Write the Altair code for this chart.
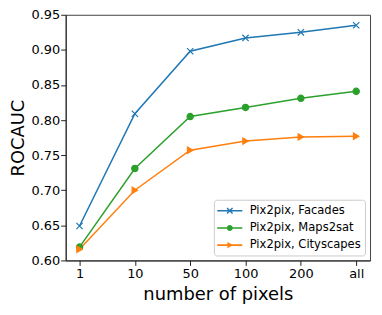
import altair as alt
import pandas as pd

categories = ["1", "10", "50", "100", "200", "all"]
series_names = ["Pix2pix, Facades", "Pix2pix, Maps2sat", "Pix2pix, Cityscapes"]
facades = [0.649, 0.809, 0.898, 0.917, 0.925, 0.935]
maps2sat = [0.619, 0.731, 0.805, 0.818, 0.831, 0.841]
cityscapes = [0.616, 0.700, 0.757, 0.770, 0.776, 0.777]
y_ticks = [0.60, 0.65, 0.70, 0.75, 0.80, 0.85, 0.90, 0.95]

colors = ["#1f77b4", "#2ca02c", "#ff7f0e"]
marker_shapes = ["M-1,-1L1,1M-1,1L1,-1", "circle", "triangle-right"]

# legend glyphs: a short line segment with the marker on top (filled outlines)
LINE = "M-1.8,-0.11L1.8,-0.11L1.8,0.11L-1.8,0.11Z"
legend_shapes = [
    LINE + "M-0.33,-0.47L0.47,0.33L0.33,0.47L-0.47,-0.33Z"
         + "M-0.33,0.47L-0.47,0.33L0.33,-0.47L0.47,-0.33Z",
    LINE + "M-0.43,0A0.43,0.43,0,1,1,0.43,0A0.43,0.43,0,1,1,-0.43,0Z",
    LINE + "M-0.34,-0.46L0.49,0L-0.34,0.46Z",
]

series_data = [facades, maps2sat, cityscapes]
rows = []
for name, vals in zip(series_names, series_data):
    for c, v in zip(categories, vals):
        rows.append({"pixels": c, "rocauc": v, "series": name})
df = pd.DataFrame(rows)

FONT = "DejaVu Sans"

x_enc = alt.X("pixels:N", sort=categories,
              scale=alt.Scale(type="point", padding=0.25),
              axis=alt.Axis(title="number of pixels", labelAngle=0, labelPadding=2, titlePadding=5))
y_enc = alt.Y("rocauc:Q",
              scale=alt.Scale(domain=[0.60, 0.95], nice=False, zero=False),
              axis=alt.Axis(title="ROCAUC", values=y_ticks, format=".2f", labelPadding=1, titlePadding=3))
color_scale = alt.Scale(domain=series_names, range=colors)

legend_props = dict(
    title=None, orient="bottom-right", offset=5,
    symbolSize=196, symbolStrokeWidth=0, symbolOpacity=1,
    labelFontSize=11.6, labelFont=FONT, labelColor="black",
    rowPadding=4.3, labelOffset=13, symbolOffset=5,
    strokeColor="#cccccc", fillColor="white", cornerRadius=3,
    padding=4,
)

lines = alt.Chart(df).mark_line(strokeWidth=1.5).encode(
    x=x_enc, y=y_enc,
    color=alt.Color("series:N", scale=color_scale, sort=series_names,
                    legend=alt.Legend(**legend_props)),
)

point_layers = []
for name, shp, col in zip(series_names, marker_shapes, colors):
    point_layers.append(
        alt.Chart(df).transform_filter(alt.datum.series == name)
        .mark_point(size=40, opacity=1, strokeWidth=1.2, shape=shp, fill=col, stroke=col,
                    fillOpacity=1, strokeOpacity=1)
        .encode(x=x_enc, y=y_enc)
    )

leg = alt.Chart(df).transform_filter("false").mark_point(filled=True, opacity=1).encode(
    x=x_enc, y=y_enc,
    color=alt.Color("series:N", scale=color_scale, sort=series_names,
                    legend=alt.Legend(**legend_props)),
    shape=alt.Shape("series:N", scale=alt.Scale(domain=series_names, range=legend_shapes),
                    sort=series_names, legend=alt.Legend(**legend_props)),
)

chart = alt.layer(lines, *point_layers, leg).properties(
    width=306, height=247,
    padding={"left": 2, "top": 0, "right": 4, "bottom": 2},
).configure_view(
    stroke="#444444", strokeWidth=1,
).configure_axis(
    labelFont=FONT, titleFont=FONT, labelFontSize=13, titleFontSize=18,
    labelColor="black", titleColor="black", titleFontWeight="normal",
    grid=False, domainColor="#222222", tickColor="#222222", tickSize=5,
)

chart.save("out.html", embed_options={"renderer": "svg", "actions": False})
